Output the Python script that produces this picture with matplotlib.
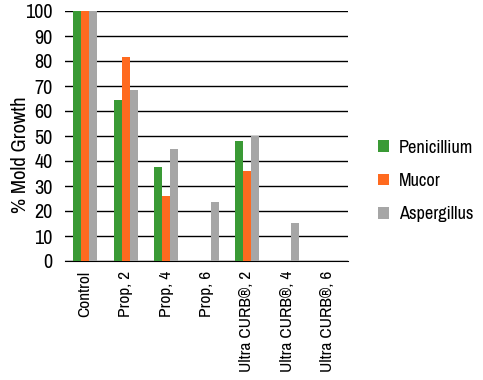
import matplotlib
matplotlib.use("Agg")
import matplotlib.pyplot as plt
import numpy as np

categories = ["Control", "Prop, 2", "Prop, 4", "Prop, 6", "Ultra CURB®, 2", "Ultra CURB®, 4", "Ultra CURB®, 6"]
series_names = ["Penicillium", "Mucor", "Aspergillus"]
penicillium = [100, 64.4, 37.7, 0, 48, 0, 0]
mucor = [100, 81.6, 26, 0, 36, 0, 0]
aspergillus = [100, 68.4, 44.8, 23.7, 50, 15.3, 0]
colors = ["#3a9a35", "#ff6a1f", "#a6a6a6"]

plt.rcParams['font.family'] = ['Liberation Sans Narrow', 'Arial Narrow', 'Archivo Narrow', 'DejaVu Sans']

fig = plt.figure(figsize=(4.83, 3.8), dpi=100)
ax = fig.add_axes([65/483, 1-261/380, (348-65)/483, 250/380])

x = np.arange(len(categories))
w = 0.2
for i, (vals, name, c) in enumerate(zip([penicillium, mucor, aspergillus], series_names, colors)):
    ax.bar(x + (i-1)*w, vals, w, color=c, label=name, zorder=3)

ax.set_xlim(-0.5, len(categories)-0.5)
ax.set_ylim(0, 100)
ax.set_yticks(range(0, 101, 10))
ax.yaxis.grid(True, color='black', linewidth=1, zorder=0)
for s in ['left', 'right', 'top']:
    ax.spines[s].set_visible(False)
ax.spines['bottom'].set_color('black')
ax.tick_params(axis='both', length=0)
ax.tick_params(axis='y', pad=9, labelsize=14.5)
ax.set_xticks(x)
ax.set_xticklabels(categories, rotation=90, fontsize=12.5)
ax.tick_params(axis='x', pad=7)
ax.set_ylabel("% Mold Growth", fontsize=15)
ax.yaxis.set_label_coords(-0.125, 0.424)

leg = fig.legend(loc='center left', bbox_to_anchor=(361/483, 1-181/380), frameon=False,
                 fontsize=13.2, handlelength=0.6, handleheight=0.6, labelspacing=0.95, handletextpad=0.55)

fig.savefig("out.png", dpi=100)
